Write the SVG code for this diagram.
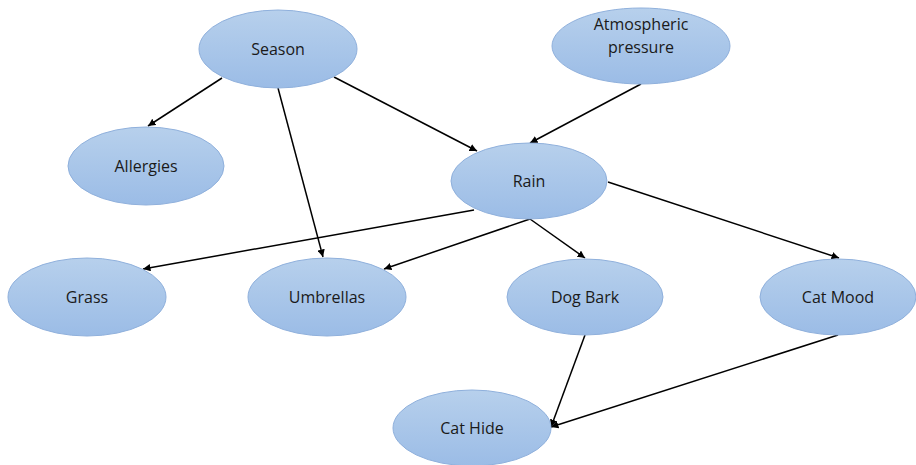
<svg xmlns="http://www.w3.org/2000/svg" width="916" height="465" viewBox="0 0 916 465">
<defs>
<linearGradient id="g" x1="0" y1="0" x2="0" y2="1">
<stop offset="0" stop-color="#b7d0ec"/>
<stop offset="1" stop-color="#9bbce6"/>
</linearGradient>
<marker id="a" viewBox="0 0 10 10" refX="10" refY="5" markerWidth="5" markerHeight="5" orient="auto" markerUnits="strokeWidth">
<path d="M0,0 L10,5 L0,10 z" fill="#000"/>
</marker>
<style>
.n ellipse{fill:url(#g);stroke:#8fb0dc;stroke-width:1}
.n text{font-family:"Open Sans","Noto Sans","Liberation Sans",sans-serif;font-size:16px;fill:#1a1a1a;text-anchor:middle}
.c line{stroke:#000;stroke-width:1.5;marker-end:url(#a)}
</style>
</defs>
<rect width="916" height="465" fill="#fff"/>
<g class="c" id="connectors">
<line x1="222" y1="78" x2="148" y2="126"/>
<line x1="278" y1="88" x2="323" y2="257"/>
<line x1="334" y1="77" x2="477" y2="151"/>
<line x1="641" y1="84" x2="530" y2="143"/>
<line x1="474" y1="210" x2="143" y2="269"/>
<line x1="530" y1="219" x2="384" y2="269"/>
<line x1="530" y1="219" x2="585" y2="258"/>
<line x1="608" y1="182" x2="839" y2="258"/>
<line x1="585" y1="335" x2="551" y2="427"/>
<line x1="838" y1="335" x2="551" y2="427"/>
</g>
<g class="n" id="season"><ellipse cx="278" cy="49" rx="79" ry="39"/><text x="278" y="55">Season</text></g>
<g class="n" id="atmospheric"><ellipse cx="641" cy="46" rx="89" ry="38"/><text x="641" y="30">Atmospheric</text><text x="641" y="53">pressure</text></g>
<g class="n" id="allergies"><ellipse cx="146" cy="166" rx="78" ry="39"/><text x="146" y="172">Allergies</text></g>
<g class="n" id="rain"><ellipse cx="529" cy="181" rx="78" ry="38"/><text x="529" y="187">Rain</text></g>
<g class="n" id="grass"><ellipse cx="87" cy="297" rx="79" ry="39"/><text x="87" y="303">Grass</text></g>
<g class="n" id="umbrellas"><ellipse cx="327" cy="297" rx="79" ry="39"/><text x="327" y="303">Umbrellas</text></g>
<g class="n" id="dogbark"><ellipse cx="585" cy="297" rx="78" ry="38"/><text x="585" y="303">Dog Bark</text></g>
<g class="n" id="catmood"><ellipse cx="838" cy="297" rx="78" ry="38"/><text x="838" y="303">Cat Mood</text></g>
<g class="n" id="cathide"><ellipse cx="472" cy="428" rx="79" ry="38"/><text x="472" y="434">Cat Hide</text></g>
</svg>
